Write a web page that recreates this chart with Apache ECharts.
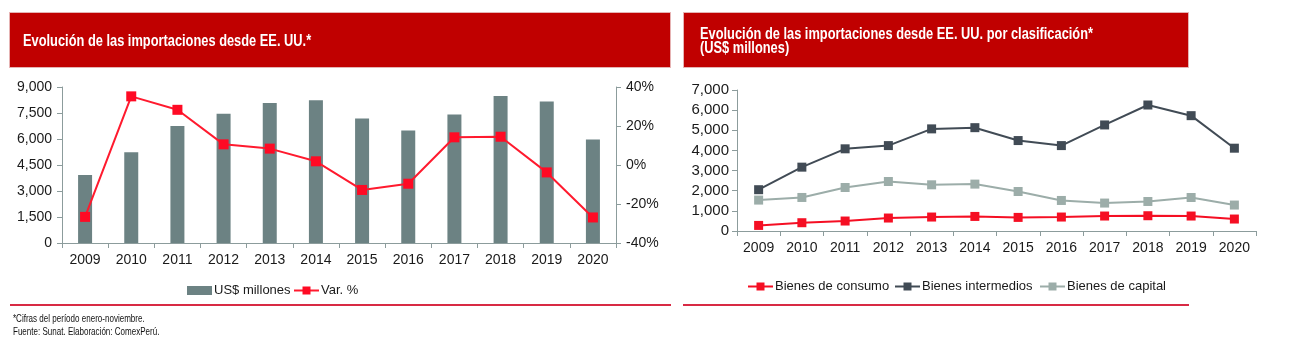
<!DOCTYPE html>
<html>
<head>
<meta charset="utf-8">
<script src="https://cdn.jsdelivr.net/npm/echarts@6/dist/echarts.min.js"></script>
<style>
html,body{margin:0;padding:0;background:#fff;}
#chart{width:1290px;height:347px;}
</style>
</head>
<body>
<div id="chart"></div>
<script>
// ---- Data ----
const years = ['2009','2010','2011','2012','2013','2014','2015','2016','2017','2018','2019','2020'];
const importsUSD = [3920, 5230, 6750, 7450, 8080, 8230, 7180, 6490, 7410, 8480, 8160, 5970];
const varPct = [-26.6, 35.2, 28.3, 10.6, 8.4, 1.9, -12.8, -9.6, 14.2, 14.5, -3.8, -26.9];
const bienesConsumo = [277, 411, 495, 644, 693, 723, 675, 693, 743, 758, 743, 594];
const bienesIntermedios = [2050, 3170, 4080, 4240, 5070, 5130, 4490, 4240, 5265, 6255, 5726, 4111];
const bienesCapital = [1535, 1665, 2160, 2457, 2293, 2328, 1961, 1516, 1387, 1466, 1664, 1288];
const leftTicks = [0, 1500, 3000, 4500, 6000, 7500, 9000];
const pctTicks = [-40, -20, 0, 20, 40];
const rightTicks = [0, 1000, 2000, 3000, 4000, 5000, 6000, 7000];

const titleLeft = 'Evolución de las importaciones desde EE. UU.*';
const titleRight1 = 'Evolución de las importaciones desde EE. UU. por clasificación*';
const titleRight2 = '(US$ millones)';
const note1 = '*Cifras del período enero-noviembre.';
const note2 = 'Fuente: Sunat. Elaboración: ComexPerú.';

const SANS = "'Liberation Sans', Arial, sans-serif";
const AXIS_COLOR = '#8c9c9c';
const TXT = '#1a1a1a';

const chart = echarts.init(document.getElementById('chart'), null, {renderer: 'canvas'});

function catAxis(gridIndex, margin) {
  return {
    type: 'category', gridIndex, data: years, boundaryGap: true,
    axisLine: {show: true, lineStyle: {color: AXIS_COLOR, width: 1}},
    axisTick: {show: true, length: 5, lineStyle: {color: AXIS_COLOR}},
    axisLabel: {color: TXT, fontSize: 14, fontFamily: SANS, margin: margin, interval: 0},
    splitLine: {show: false}
  };
}
function narrowText(text, x, y, size, weight, color, sx) {
  return {type: 'text', x: x, y: y, scaleX: sx, z: 10,
    style: {text: text, fill: color, font: weight + ' ' + size + 'px ' + SANS, textVerticalAlign: 'middle', textAlign: 'left'}};
}
function legendItem(name, left, top, icon) {
  const d = icon ? {name: name, icon: icon} : name;
  return {left: left, top: top, itemWidth: 25, itemHeight: icon ? 9 : 10, itemGap: 0,
    textStyle: {color: TXT, fontSize: 13, fontFamily: SANS, padding: [0, 0, 0, -3]},
    data: [d]};
}

const option = {
  animation: false,
  backgroundColor: '#ffffff',
  graphic: [
    {type: 'rect', shape: {x: 9.5, y: 12.5, width: 661, height: 55}, style: {fill: '#c00000', stroke: '#e6b3b3', lineWidth: 1}, z: 1},
    {type: 'rect', shape: {x: 683.5, y: 12.5, width: 505, height: 55}, style: {fill: '#c00000', stroke: '#e6b3b3', lineWidth: 1}, z: 1},
    {type: 'rect', shape: {x: 10, y: 304, width: 661, height: 2}, style: {fill: '#d82a44'}},
    {type: 'rect', shape: {x: 683, y: 304, width: 506, height: 2}, style: {fill: '#d82a44'}},
    narrowText(titleLeft, 23, 41, 17, 'bold', '#ffffff', 0.755),
    narrowText(titleRight1, 700, 34, 17, 'bold', '#ffffff', 0.755),
    narrowText(titleRight2, 700, 48, 17, 'bold', '#ffffff', 0.755),
    narrowText(note1, 13, 319, 11, 'normal', '#111111', 0.73),
    narrowText(note2, 13, 332, 11, 'normal', '#111111', 0.73)
  ],
  legend: [
    legendItem('US$ millones', 182, 279, 'rect'),
    legendItem('Var. %', 288, 279),
    legendItem('Bienes de consumo', 742, 275),
    legendItem('Bienes intermedios', 889, 275),
    legendItem('Bienes de capital', 1034, 275)
  ],
  grid: [
    {left: 62, top: 87, width: 554, height: 156, containLabel: false},
    {left: 737, top: 90, width: 519, height: 141, containLabel: false}
  ],
  xAxis: [catAxis(0, 10), catAxis(1, 10)],
  yAxis: [
    {type: 'value', gridIndex: 0, min: leftTicks[0], max: leftTicks[leftTicks.length-1], interval: 1500,
     axisLine: {show: true, lineStyle: {color: AXIS_COLOR}}, axisTick: {show: true, length: 5, lineStyle: {color: AXIS_COLOR}},
     splitLine: {show: false},
     axisLabel: {color: TXT, fontSize: 14, fontFamily: SANS, margin: 10,
       formatter: v => v.toLocaleString('en-US')}},
    {type: 'value', gridIndex: 0, position: 'right', min: pctTicks[0], max: pctTicks[pctTicks.length-1], interval: 20,
     axisLine: {show: true, lineStyle: {color: AXIS_COLOR}}, axisTick: {show: true, length: 5, lineStyle: {color: AXIS_COLOR}},
     splitLine: {show: false},
     axisLabel: {color: TXT, fontSize: 14, fontFamily: SANS, margin: 10, formatter: '{value}%'}},
    {type: 'value', gridIndex: 1, min: rightTicks[0], max: rightTicks[rightTicks.length-1], interval: 1000,
     axisLine: {show: true, lineStyle: {color: AXIS_COLOR}}, axisTick: {show: true, length: 5, lineStyle: {color: AXIS_COLOR}},
     splitLine: {show: false},
     axisLabel: {color: TXT, fontSize: 15, fontFamily: SANS, margin: 8,
       formatter: v => v.toLocaleString('en-US')}}
  ],
  series: [
    {name: 'US$ millones', type: 'bar', xAxisIndex: 0, yAxisIndex: 0, data: importsUSD, barWidth: 14,
     itemStyle: {color: '#6c8283'}},
    {name: 'Var. %', type: 'line', xAxisIndex: 0, yAxisIndex: 1, data: varPct, symbol: 'rect', symbolSize: 10,
     lineStyle: {color: '#ff1a2e', width: 2}, itemStyle: {color: '#ff0a24'}},
    {name: 'Bienes de consumo', type: 'line', xAxisIndex: 1, yAxisIndex: 2, data: bienesConsumo, symbol: 'rect', symbolSize: 9,
     lineStyle: {color: '#f50f23', width: 2}, itemStyle: {color: '#f50f23'}},
    {name: 'Bienes intermedios', type: 'line', xAxisIndex: 1, yAxisIndex: 2, data: bienesIntermedios, symbol: 'rect', symbolSize: 9,
     lineStyle: {color: '#414b55', width: 2}, itemStyle: {color: '#414b55'}},
    {name: 'Bienes de capital', type: 'line', xAxisIndex: 1, yAxisIndex: 2, data: bienesCapital, symbol: 'rect', symbolSize: 9,
     lineStyle: {color: '#9cada9', width: 2}, itemStyle: {color: '#9cada9'}}
  ]
};
chart.setOption(option);
</script>
</body>
</html>
